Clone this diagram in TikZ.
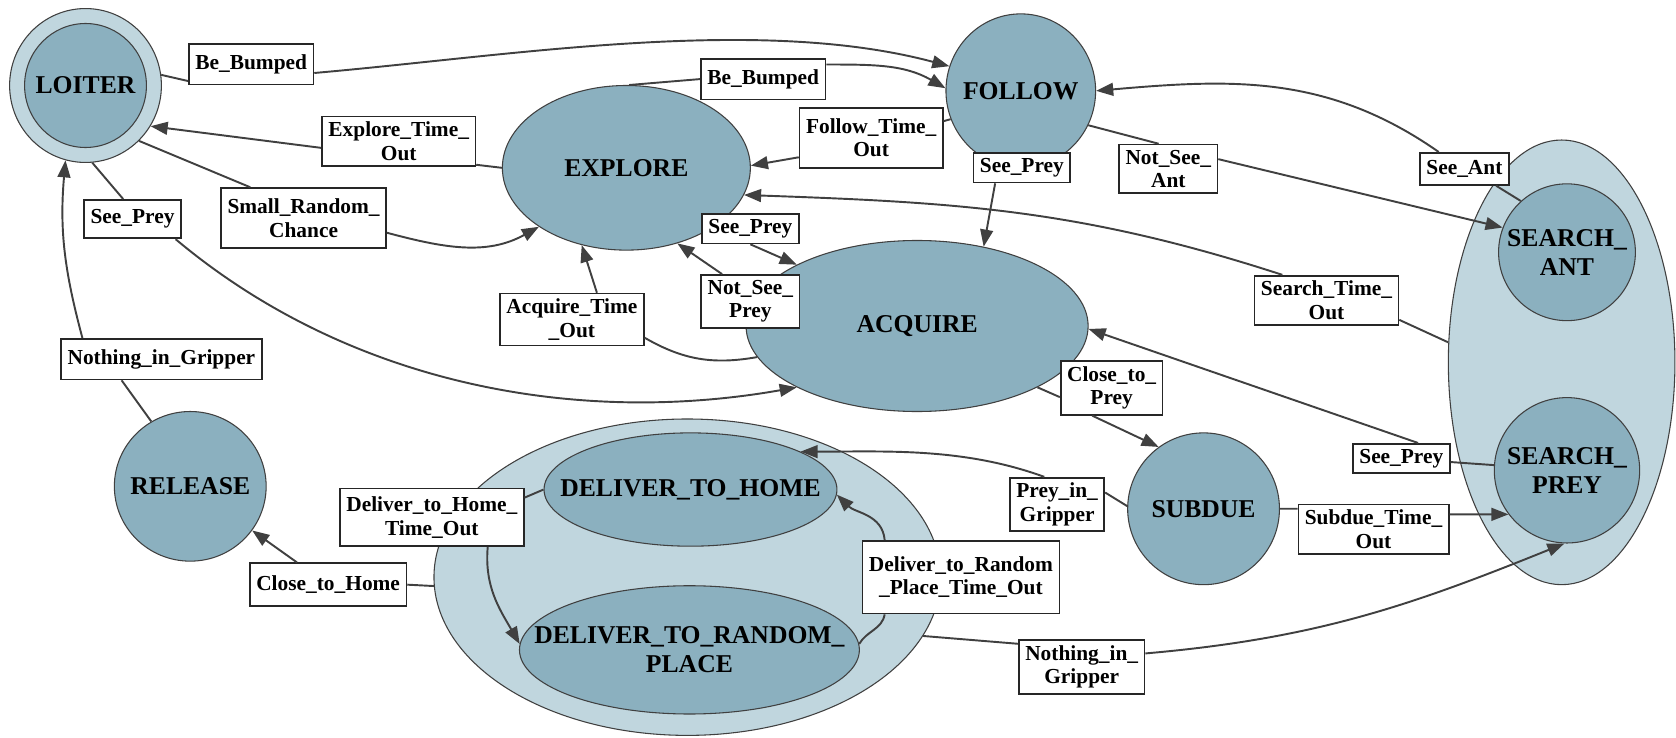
\documentclass[tikz,border=0pt]{standalone}
\usepackage{fontspec}
\setmainfont{Liberation Serif}
\usetikzlibrary{shapes.geometric,arrows.meta}
\definecolor{statefill}{RGB}{139,176,191}
\definecolor{groupfill}{RGB}{192,214,222}
\definecolor{edgecol}{RGB}{64,64,64}

\begin{document}
\begin{tikzpicture}[
        x=0.5pt, y=0.5pt,
        staten/.style={draw=edgecol, ellipse, fill=statefill, line width=0.5pt, inner sep=0pt,
            label={[align=center, font=\fontsize{12}{13.5}\selectfont\bfseries]center:#1}},
        groupn/.style={draw=edgecol, ellipse, fill=groupfill, line width=0.5pt, inner sep=0pt},
        lbln/.style={draw=black!85, fill=white, line width=0.8pt, rectangle, inner xsep=3pt, inner ysep=2.5pt, align=center, font=\fontsize{10}{11}\selectfont\bfseries},
        conn/.style={draw=edgecol, line width=0.9pt},
        arrn/.style={conn, -{Triangle[length=8pt,width=6pt]}},
    ]
    \useasboundingbox (0,0) rectangle (1568,690);

    \node[groupn, minimum width=71pt, minimum height=72pt](loiterring) at (80,610) {};
    \node[groupn, minimum width=106pt, minimum height=208pt](searchgrp) at (1461,351) {};
    \node[groupn, minimum width=237pt, minimum height=148pt](delivergrp) at (643,150) {};

    \node[staten={LOITER}, minimum width=57pt, minimum height=58pt](loiter) at (80,610) {};
    \node[staten={EXPLORE}, minimum width=116pt, minimum height=77pt](explore) at (586,533) {};
    \node[staten={FOLLOW}, minimum width=70pt, minimum height=72pt](follow) at (955,605) {};
    \node[staten={ACQUIRE}, minimum width=160pt, minimum height=80pt](acquire) at (858,385) {};
    \node[staten={SEARCH\_\\ANT}, minimum width=64pt, minimum height=64pt](searchant) at (1466,454) {};
    \node[staten={SEARCH\_\\PREY}, minimum width=68pt, minimum height=68pt](searchprey) at (1466,250) {};
    \node[staten={RELEASE}, minimum width=71pt, minimum height=70pt](release) at (178,235) {};
    \node[staten={DELIVER\_TO\_HOME}, minimum width=137pt, minimum height=53pt](dth) at (646,232) {};
    \node[staten={DELIVER\_TO\_RANDOM\_\\PLACE}, minimum width=159pt, minimum height=60pt](dtrp) at (645,82) {};
    \node[staten={SUBDUE}, minimum width=71pt, minimum height=71pt](subdue) at (1126,214) {};

    \node[lbln, minimum height=19pt](bb1) at (235,630) {Be\_Bumped};
    \node[lbln, minimum height=19pt](bb2) at (714,616) {Be\_Bumped};
    \node[lbln](ett) at (373,558) {Explore\_Time\_\\Out};
    \node[lbln, minimum height=28pt](ftt) at (815,561) {Follow\_Time\_\\Out};
    \node[lbln](sp1) at (956,533) {See\_Prey};
    \node[lbln](nsa) at (1093,532) {Not\_See\_\\Ant};
    \node[lbln, minimum height=15pt](sa) at (1370,532) {See\_Ant};
    \node[lbln, minimum height=28pt](src) at (284,486) {Small\_Random\_\\Chance};
    \node[lbln, minimum height=18pt](sp2) at (124,485) {See\_Prey};
    \node[lbln](sp3) at (702,476) {See\_Prey};
    \node[lbln](nsp) at (702,408) {Not\_See\_\\Prey};
    \node[lbln](att) at (535,391) {Acquire\_Time\\\_Out};
    \node[lbln](stt) at (1241,409) {Search\_Time\_\\Out};
    \node[lbln, minimum height=19pt](nig1) at (151,354) {Nothing\_in\_Gripper};
    \node[lbln](ctp) at (1040,327) {Close\_to\_\\Prey};
    \node[lbln](sp4) at (1311,261) {See\_Prey};
    \node[lbln](pig) at (989,218) {Prey\_in\_\\Gripper};
    \node[lbln](sdt) at (1285,195) {Subdue\_Time\_\\Out};
    \node[lbln, minimum height=27pt](dht) at (404,206) {Deliver\_to\_Home\_\\Time\_Out};
    \node[lbln, minimum height=20pt](cth) at (307,143) {Close\_to\_Home};
    \node[lbln, minimum height=34pt](drt) at (899,150) {Deliver\_to\_Random\\\_Place\_Time\_Out};
    \node[lbln](nig2) at (1012,66) {Nothing\_in\_\\Gripper};

    \draw[conn] (loiterring.8) -- (bb1.195);
    \draw[arrn] (bb1.-8) to[out=5, in=165, looseness=0.8] (follow.161);
    \draw[conn] (explore.88) -- (bb2.west);
    \draw[arrn] (bb2.13) to[out=0, in=150] (follow.178);
    \draw[conn] (explore.west) -- (ett.-17);
    \draw[arrn] (ett.185) -- (loiterring.-32);
    \draw[conn] (follow.202) -- (ftt.13);
    \draw[arrn] (ftt.195) -- (explore.1);
    \draw[arrn] ([xshift=-12.5pt]sp1.south) -- (acquire.50);
    \draw[conn] (follow.-27) -- (nsa.111);
    \draw[arrn] (nsa.11) -- (searchant.159);
    \draw[conn] (searchant.132) -- (sa.-28);
    \draw[arrn] ([xshift=-12pt]sa.north) to[out=145, in=5] (follow.0);
    \draw[conn] (loiterring.-46) -- (src.150);
    \draw[arrn] (src.-10) to[out=-15, in=209] (explore.214);
    \draw[conn] (loiterring.-85) -- (sp2.115);
    \draw[arrn] (sp2.-25) to[out=-40, in=190, looseness=0.9] (acquire.207);
    \draw[arrn] (sp3.south) -- (acquire.153);
    \draw[arrn] (nsp.136) -- (explore.-56);
    \draw[conn] (acquire.191) to[out=190, in=-30] (att.-14);
    \draw[arrn] (att.47) -- (explore.240);
    \draw[conn] (searchgrp.170) -- (stt.-15);
    \draw[arrn] (stt.150) to[out=162, in=-2] (explore.-13);
    \draw[conn] (release.121) -- (nig1.208);
    \draw[arrn] (nig1.165) to[out=105, in=265] (loiterring.255);
    \draw[conn] (acquire.-27) -- (ctp.190);
    \draw[arrn] (ctp.235) -- (subdue.126);
    \draw[conn] (searchprey) -- (sp4);
    \draw[arrn] (sp4.43) -- (acquire.-1);
    \draw[conn] (subdue.178) -- (pig.14);
    \draw[arrn] (pig.115) to[out=160, in=0, looseness=0.9] (dth.19);
    \draw[conn] (subdue.0) -- (sdt.165);
    \draw[arrn] (sdt.11) -- (searchprey.217);
    \draw[conn] (dth.180) -- (dht.12);
    \draw[arrn] (dht.-28) to[out=-95, in=120] (dtrp.178);
    \draw[conn] (delivergrp.182) -- (cth.east);
    \draw[arrn] (cth) -- (release);
    \draw[conn] (dtrp.2) to[out=60, in=-100] (drt.206);
    \draw[arrn] (drt.154) to[out=95, in=-45] (dth.-2);
    \draw[conn] (delivergrp.-14) -- (nig2.160);
    \draw[arrn] (nig2.12) to[out=5, in=202] (searchprey.268);
\end{tikzpicture}
\end{document}
